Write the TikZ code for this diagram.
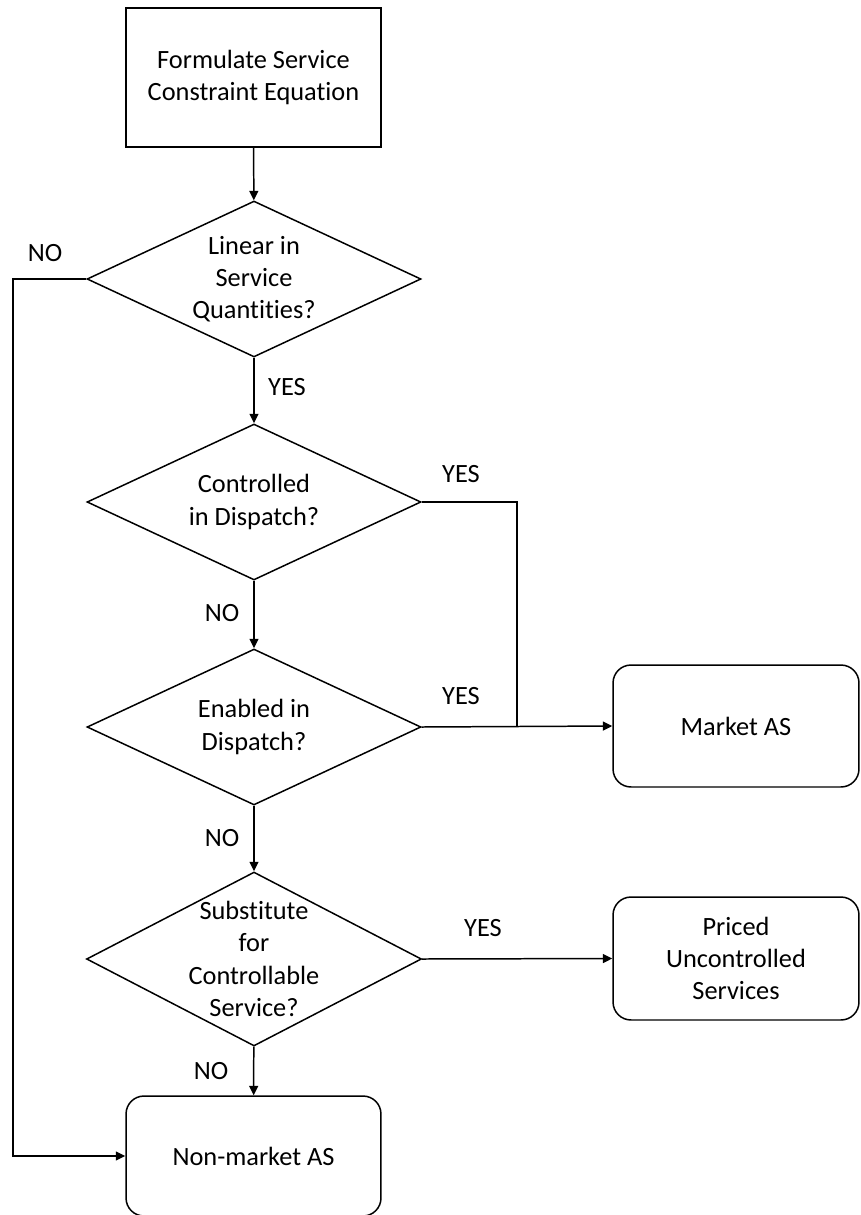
\documentclass[tikz,border=0pt]{standalone}
\usepackage{fontspec}
\setmainfont{Carlito}[Ligatures=NoCommon]
\usetikzlibrary{shapes.geometric,arrows.meta}
\begin{document}
\begin{tikzpicture}[x=0.02cm,y=-0.02cm,
  txt/.style={font=\fontsize{15pt}{18.3pt}\selectfont},
  every node/.style={txt},
  line/.style={line width=0.85pt,draw=black},
  arr/.style={line, -{Triangle[length=0.19cm,width=0.18cm]}},
  sqbox/.style={line, rectangle, align=center, inner sep=0pt},
  rbox/.style={line, rectangle, rounded corners=0.36cm, align=center, inner sep=0pt},
  dec/.style={line, diamond, inner sep=0pt, minimum width=6.68cm, minimum height=3.12cm},
  dtext/.style={align=center, txt},
  lbl/.style={inner sep=0pt}]
\useasboundingbox (0,0) rectangle (860,1215);

\node[sqbox, minimum width=5.10cm, minimum height=2.78cm] (start) at (253.5,77.5) {Formulate Service\\Constraint Equation};

\node[dec, label={[dtext]center:Linear in\\Service\\Quantities?}] (d1) at (254,279) {};
\node[dec, label={[dtext]center:Controlled\\in Dispatch?}] (d2) at (254,502) {};
\node[dec, label={[dtext]center:Enabled in\\Dispatch?}] (d3) at (254,727) {};
\node[dec, minimum width=6.70cm, minimum height=3.48cm, label={[dtext]center:Substitute\\for\\Controllable\\Service?}] (d4) at (254,959) {};

\node[rbox, minimum width=4.92cm, minimum height=2.44cm] (ma) at (736,726) {Market AS};
\node[rbox, minimum width=4.92cm, minimum height=2.46cm] (pu) at (736,958.5) {Priced\\Uncontrolled\\Services};
\node[rbox, minimum width=5.10cm, minimum height=2.40cm] (nm) at (253.5,1156) {Non-market AS};

\coordinate (lft) at (13,279);
\coordinate (j) at (517,727);

\draw[arr] (start) -- (d1);
\draw[arr] (d1) -- (d2);
\draw[arr] (d2) -- (d3);
\draw[arr] (d3) -- (d4);
\draw[arr] (d4) -- (nm);
\draw[arr] (d1.west) -- (lft) |- (nm.west);
\draw[line] (d2.east) -| (j);
\draw[arr] (d3.east) -- (ma.west);
\draw[arr] (d4.east) -- (pu.west);

\node[lbl] (n1) at (45,253) {NO};
\node[lbl] (y1) at (287,387) {YES};
\node[lbl] (y2) at (461,474) {YES};
\node[lbl] (n2) at (222,613) {NO};
\node[lbl] (y3) at (461,696) {YES};
\node[lbl] (n3) at (222,838) {NO};
\node[lbl] (y4) at (483,928) {YES};
\node[lbl] (n4) at (211,1071) {NO};
\end{tikzpicture}
\end{document}
